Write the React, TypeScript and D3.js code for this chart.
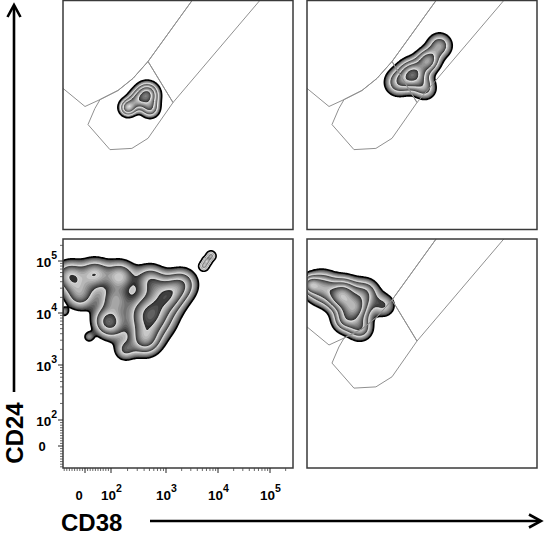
import React, { useMemo } from "react";
import * as d3 from "d3";

// ---------------- axis definition (biexponential-like display) ----------------
const decadeTicks = [0, 100, 1000, 10000, 100000];
const decadeBase = ["0", "10", "10", "10", "10"];
const decadeExp = ["", "2", "3", "4", "5"];
const linearMinor = [-80, -70, -60, -50, -40, -30, -20, -10, 10, 20, 30, 40, 50, 60, 70, 80, 90];
const decadeMultipliers = [2, 3, 4, 5, 6, 7, 8, 9];
const minorDecades = [100, 1000, 10000];
const extraMinor = [200000];

// ---------------- populations (CD38, CD24, spread in decades, weight) ----------------
const popTopLeft = [
  { cd38: 452, cd24: 4120, spread: 0.135, weight: 1.0 },
  { cd38: 204, cd24: 2320, spread: 0.1, weight: 0.8 },
  { cd38: 513, cd24: 2230, spread: 0.115, weight: 0.5 },
  { cd38: 296, cd24: 3160, spread: 0.115, weight: 0.5 },
];
const popTopRight = [
  { cd38: 1140, cd24: 10000, spread: 0.17, weight: 1.0 },
  { cd38: 2220, cd24: 18600, spread: 0.14, weight: 0.7 },
  { cd38: 3700, cd24: 36000, spread: 0.15, weight: 0.45 },
  { cd38: 606, cd24: 7020, spread: 0.16, weight: 0.45 },
  { cd38: 1950, cd24: 5370, spread: 0.14, weight: 0.35 },
];
const popBottomLeft = [
  { cd38: 512, cd24: 9160, spread: 0.27, weight: 1.0 },
  { cd38: 1092, cd24: 22200, spread: 0.21, weight: 0.7 },
  { cd38: 415, cd24: 3020, spread: 0.19, weight: 0.6 },
  { cd38: -58, cd24: 51500, spread: 0.19, weight: 0.5 },
  { cd38: 38, cd24: 56500, spread: 0.19, weight: 0.5 },
  { cd38: 146, cd24: 51500, spread: 0.19, weight: 0.5 },
  { cd38: 512, cd24: 43100, spread: 0.19, weight: 0.45 },
  { cd38: 2030, cd24: 36100, spread: 0.19, weight: 0.45 },
  { cd38: -19, cd24: 22200, spread: 0.19, weight: 0.4 },
  { cd38: 118, cd24: 17800, spread: 0.19, weight: 0.4 },
  { cd38: 104, cd24: 5900, spread: 0.19, weight: 0.4 },
  { cd38: 77, cd24: 7330, spread: 0.17, weight: 0.3 },
  { cd38: 180, cd24: 1940, spread: 0.135, weight: 0.3 },
  { cd38: 5370, cd24: 80200, spread: 0.05, weight: 0.8 },
  { cd38: 6140, cd24: 100000, spread: 0.05, weight: 0.8 },
  { cd38: 7330, cd24: 125000, spread: 0.05, weight: 0.8 },
  { cd38: 15, cd24: 3470, spread: 0.07, weight: 0.2 },
  { cd38: -81, cd24: 10500, spread: 0.06, weight: 0.2 },
];
const popBottomRight = [
  { cd38: 100, cd24: 12500, spread: 0.17, weight: 1.0 },
  { cd38: 42, cd24: 19500, spread: 0.17, weight: 0.8 },
  { cd38: -27, cd24: 30500, spread: 0.19, weight: 0.7 },
  { cd38: -73, cd24: 35000, spread: 0.115, weight: 0.5 },
  { cd38: 152, cd24: 24300, spread: 0.17, weight: 0.5 },
  { cd38: 61.5, cd24: 27700, spread: 0.17, weight: 0.5 },
  { cd38: 330, cd24: 14000, spread: 0.15, weight: 0.3 },
  { cd38: 61.5, cd24: 7330, spread: 0.15, weight: 0.55 },
  { cd38: 123, cd24: 5160, spread: 0.15, weight: 0.5 },
];

// ---------------- gates (CD38, CD24 vertices) ----------------
const gateLeft = [[-173, 12500], [0, 2426], [58, 3300], [134, 4930], [251, 8400], [471, 17800], [4500, 430000], [-173, 430000]];
const gateBand = [[471, 17800], [4500, 430000], [96000, 430000], [1364, 2890]];
const gateLower = [[471, 17800], [1364, 2890], [471, 610], [240, 400], [96, 380], [11.5, 1090], [38, 2220], [58, 3300], [134, 4930], [251, 8400]];

// contour levels (relative density)
const contourLevels = [0.12, 0.3, 0.55, 0.9, 1.4, 2.1];

// ---------------- layout ----------------
const W = 230;
const H = 229;
const PX_PER_DECADE = 52;
const tDomain = [1.5, 2, 3, 4, 5];
const tOffsets = [22, 48, 103, 155, 207];
const toT = (v: number) => (v >= 100 ? Math.log10(v) : 1.5 + v / 200);

function makeScales(px: number, py: number) {
  const xs = d3.scaleLinear().domain(tDomain).range(tOffsets.map((o) => px + o));
  const ys = d3.scaleLinear().domain(tDomain).range(tOffsets.map((o) => py + H - o));
  return { x: (v: number) => xs(toT(v)), y: (v: number) => ys(toT(v)) };
}

const panels = [
  { key: "tl", x: 63, y: 0.5, pop: popTopLeft, gates: true, axes: false },
  { key: "tr", x: 307, y: 0.5, pop: popTopRight, gates: true, axes: false },
  { key: "bl", x: 63, y: 239, pop: popBottomLeft, gates: false, axes: true },
  { key: "br", x: 307, y: 239, pop: popBottomRight, gates: true, axes: false },
];

function computeBlob(pop: typeof popTopLeft) {
  const loc = makeScales(0, 0);
  const comps = pop.map((p) => ({ cx: loc.x(p.cd38), cy: loc.y(p.cd24), s: p.spread * PX_PER_DECADE, w: p.weight }));
  const vals = new Array(W * H).fill(0);
  for (let j = 0; j < H; j++) {
    const y = j + 0.5;
    for (let i = 0; i < W; i++) {
      const x = i + 0.5;
      let s = 0;
      for (const c of comps) {
        const dx = x - c.cx, dy = y - c.cy;
        const d2 = (dx * dx + dy * dy) / (2 * c.s * c.s);
        if (d2 < 25) s += c.w * Math.exp(-d2);
      }
      vals[i + j * W] = s;
    }
  }
  const S = 10;
  const fills: { d: string; color: string }[] = [];
  const lines: { d: string; k: number }[] = [];
  const path = d3.geoPath();
  const gen = d3.contours().size([W, H]);
  for (let k = 0; k < contourLevels.length; k++) {
    const lo = contourLevels[k];
    const hi = contourLevels[k + 1] ?? lo * 1.4;
    for (let s = 0; s < S; s++) {
      const thr = lo * Math.pow(hi / lo, s / S);
      const c = gen.contour(vals, thr);
      const d = path(c as any) || "";
      if (!d) continue;
      const t = s / (S - 1);
      const g = Math.round(45 + (200 - 45) * t);
      fills.push({ d, color: `rgb(${g},${g},${g})` });
      if (s === 0) lines.push({ d, k });
    }
  }
  return { fills, lines };
}

function Panel({ p }: { p: (typeof panels)[number] }) {
  const sc = makeScales(p.x, p.y);
  const blob = useMemo(() => computeBlob(p.pop), [p.pop]);
  const line = d3.line<number[]>().x((d) => sc.x(d[0])).y((d) => sc.y(d[1])).curve(d3.curveLinearClosed);
  const clipId = `clip-${p.key}`;
  const minorVals: number[] = [...linearMinor, ...extraMinor];
  minorDecades.forEach((dec) => decadeMultipliers.forEach((m) => minorVals.push(m * dec)));
  return (
    <g>
      <defs>
        <clipPath id={clipId}>
          <rect x={p.x} y={p.y} width={W} height={H} />
        </clipPath>
      </defs>
      <g clipPath={`url(#${clipId})`}>
        <g transform={`translate(${p.x},${p.y})`}>
          {blob.fills.map((f, i) => (
            <path key={i} d={f.d} fill={f.color} stroke="none" />
          ))}
          {blob.lines.map((l, i) => (
            <path key={"l" + i} d={l.d} fill="none" stroke={l.k === 0 ? "#000" : "#f4f4f4"} strokeWidth={l.k === 0 ? 1.6 : 1} />
          ))}
        </g>
        {p.gates &&
          [gateLeft, gateBand, gateLower].map((g, i) => (
            <path key={"g" + i} d={line(g) || ""} fill="none" stroke="#909090" strokeWidth={1} />
          ))}
      </g>
      <rect x={p.x} y={p.y} width={W} height={H} fill="none" stroke="#3a3a3a" strokeWidth={1.5} />
      {p.axes && (
        <g fontFamily="'Liberation Sans', Arial, sans-serif" fontWeight="bold">
          {minorVals.map((v, i) => (
            <g key={"m" + i} stroke="#444" strokeWidth={0.8}>
              <line x1={p.x} x2={p.x - 3} y1={sc.y(v)} y2={sc.y(v)} />
              <line y1={p.y + H} y2={p.y + H + 3} x1={sc.x(v)} x2={sc.x(v)} />
            </g>
          ))}
          {decadeTicks.map((v, i) => (
            <g key={"M" + i}>
              <line x1={p.x} x2={p.x - 5} y1={sc.y(v)} y2={sc.y(v)} stroke="#222" strokeWidth={1} />
              <line y1={p.y + H} y2={p.y + H + 5} x1={sc.x(v)} x2={sc.x(v)} stroke="#222" strokeWidth={1} />
              {i === 0 ? (
                <>
                  <text x={42} y={sc.y(v) + 5} fontSize={13} textAnchor="middle">{decadeBase[i]}</text>
                  <text x={79} y={500} fontSize={13} textAnchor="middle">{decadeBase[i]}</text>
                </>
              ) : (
                <>
                  <text x={57} y={sc.y(v) + 6} fontSize={13.5} textAnchor="end">
                    {decadeBase[i]}
                    <tspan dy={-8} fontSize={10.5}>{decadeExp[i]}</tspan>
                  </text>
                  <text x={sc.x(v) - 10} y={500} fontSize={13.5} textAnchor="start">
                    {decadeBase[i]}
                    <tspan dy={-8} fontSize={10.5}>{decadeExp[i]}</tspan>
                  </text>
                </>
              )}
            </g>
          ))}
        </g>
      )}
    </g>
  );
}

export default function App() {
  return (
    <svg width={544} height={537} style={{ position: "absolute", left: 0, top: 0, background: "#fff" }}>
      <rect width={544} height={537} fill="#fff" />
      {panels.map((p) => (
        <Panel key={p.key} p={p} />
      ))}
      <g stroke="#000" strokeWidth={2.6} fill="none" strokeLinecap="butt">
        <line x1={14} y1={392} x2={14} y2={6} />
        <path d="M7.5,17 L14,5 L20.5,17" strokeLinejoin="miter" />
        <line x1={150} y1={521} x2={540} y2={521} />
        <path d="M529,514.5 L541,521 L529,527.5" strokeLinejoin="miter" />
      </g>
      <g fontFamily="'Liberation Sans', Arial, sans-serif" fontWeight="bold" fontSize={24} fill="#000">
        <text x={61} y={531}>CD38</text>
        <text transform="translate(23,433) rotate(-90)" textAnchor="middle">CD24</text>
      </g>
    </svg>
  );
}
